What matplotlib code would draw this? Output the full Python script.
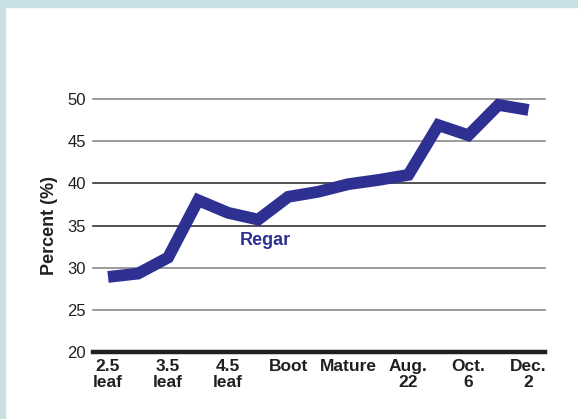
import matplotlib
matplotlib.use("Agg")
import matplotlib.pyplot as plt
from matplotlib.patches import Rectangle
import numpy as np

plt.rcParams['font.family'] = ['Liberation Sans', 'DejaVu Sans']

# data
values = [28.9, 29.3, 31.2, 38.0, 36.5, 35.7, 38.4, 39.0, 39.9, 40.4, 41.0,
          46.9, 45.7, 49.3, 48.7]
tick_pos = [0, 2, 4, 6, 8, 10, 12, 14]
tick_labels = ["2.5\nleaf", "3.5\nleaf", "4.5\nleaf", "Boot", "Mature",
               "Aug.\n22", "Oct.\n6", "Dec.\n2"]
yticks = [20, 25, 30, 35, 40, 45, 50]
grid_colors = {25: '#8a8a8a', 30: '#8a8a8a', 35: '#333333', 40: '#333333',
               45: '#8a8a8a', 50: '#8a8a8a'}

line_color = '#2e3192'
border_color = '#c9e1e4'

fig = plt.figure(figsize=(5.78, 4.19), dpi=100)
fig.patch.set_facecolor('white')

# light blue frame on top and left
fig.patches.append(Rectangle((0, 1 - 7 / 419), 1, 7 / 419, transform=fig.transFigure,
                             color=border_color, zorder=0))
fig.patches.append(Rectangle((0, 0), 5 / 578, 1, transform=fig.transFigure,
                             color=border_color, zorder=0))

ax = fig.add_axes([93 / 578, 1 - 352 / 419, (545 - 93) / 578, (352 - 99) / 419])
ax.set_xlim(-0.5, 14.55)
ax.set_ylim(20, 50)

for y in yticks[1:]:
    ax.axhline(y, color=grid_colors[y], lw=1.2, zorder=1, clip_on=False)
ax.axhline(20, color='#231f20', lw=3.2, zorder=3, clip_on=False)

x = np.arange(len(values))
ax.plot(x, values, color=line_color, lw=8.5, solid_joinstyle='miter',
        solid_capstyle='butt', zorder=2, clip_on=False)

ax.text(5.23, 32.7, "Regar", color=line_color, fontsize=13, fontweight='bold',
        ha='center', va='baseline')

for s in ax.spines.values():
    s.set_visible(False)

ax.set_yticks(yticks)
ax.set_yticklabels([str(v) for v in yticks], fontsize=12, color='#231f20')
ax.tick_params(axis='y', length=0, pad=5)
ax.set_xticks(tick_pos)
ax.set_xticklabels(tick_labels, fontsize=12.5, fontweight='bold', color='#231f20',
                   linespacing=1.05)
ax.tick_params(axis='x', length=0, pad=5)
ax.set_ylabel("Percent (%)", fontsize=13, fontweight='bold', color='#231f20',
              labelpad=7)

fig.savefig("out.png", dpi=100, facecolor='white')
